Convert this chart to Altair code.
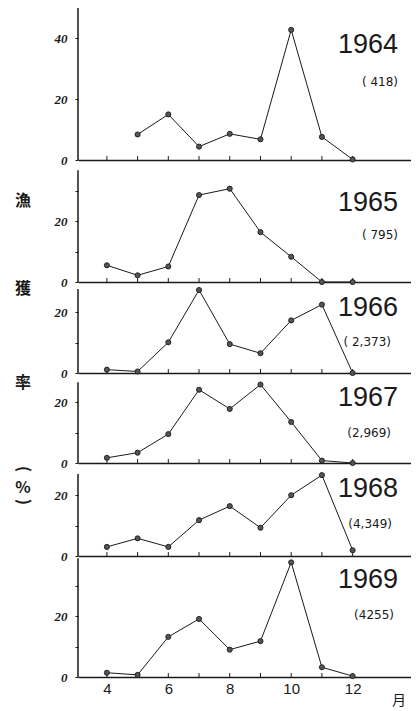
import altair as alt
import pandas as pd

months = [4, 5, 6, 7, 8, 9, 10, 11, 12]
years = ["1964", "1965", "1966", "1967", "1968", "1969"]
counts = ["( 418)", "( 795)", "( 2,373)", "(2,969)", "(4,349)", "(4255)"]
v1964 = [None, 8.4, 15.0, 4.4, 8.6, 6.8, 42.8, 7.6, 0.2]
v1965 = [5.5, 2.2, 5.1, 28.6, 30.7, 16.4, 8.3, 0.0, 0.0]
v1966 = [1.1, 0.5, 10.1, 27.3, 9.5, 6.5, 17.3, 22.5, 0.0]
v1967 = [1.7, 3.4, 9.5, 24.1, 17.8, 25.8, 13.5, 0.8, 0.0]
v1968 = [3.0, 5.8, 3.0, 11.8, 16.4, 9.3, 20.0, 26.6, 1.9]
v1969 = [1.4, 0.7, 13.2, 19.1, 9.0, 11.8, 37.7, 3.2, 0.3]
series = [v1964, v1965, v1966, v1967, v1968, v1969]

xticks = [4, 6, 8, 10, 12]
y_ticks = [[0, 10, 20, 30, 40], [0, 10, 20, 30], [0, 10, 20], [0, 10, 20], [0, 10, 20], [0, 10, 20, 30]]
axis_top = [50, 36.8, 27.6, 26.6, 27.0, 39.1]
ylab_chars = ["漁", "獲", "率", "(", "%", ")"]
ylab_panel = [1, 2, 3, 4, 4, 4]
ylab_y = [41, 7, 10, 6, 25, 39]
ylab_angle = [0, 0, 0, 90, 0, 90]

# layout (pixels)
heights = [152, 122, 91, 90, 93, 121]
PX = 3.04
W = 333
year_y = [37, 43, 26, 25, 26, 24]
count_y = [74, 75, 60, 60, 61, 59]
count_x = [320, 320, 313, 313, 314, 316]

INK = "#1a1a1a"


def panel(i):
    H = heights[i]
    df = pd.DataFrame({"month": months, "value": series[i]}).dropna()
    last = i == len(series) - 1
    if last:
        xaxis = alt.Axis(values=xticks, ticks=False, domain=True, grid=False, title=None,
                         labelFont="Liberation Sans", labelFontSize=15, labelColor=INK,
                         labelPadding=4, domainColor=INK, domainWidth=1.5)
    else:
        xaxis = alt.Axis(labels=False, ticks=False, domain=True, grid=False, title=None,
                         domainColor=INK, domainWidth=1.5, labelPadding=0)
    x = alt.X("month:Q", scale=alt.Scale(domain=[3.06, 13.9], nice=False, zero=False), axis=xaxis)
    y = alt.Y("value:Q", scale=alt.Scale(domain=[0, H / PX], nice=False),
              axis=alt.Axis(values=y_ticks[i], labelExpr="datum.value % 20 == 0 ? datum.label : ''",
                            domain=False, grid=False, title=None, tickSize=3, tickColor=INK,
                            labelFont="Liberation Serif", labelFontStyle="italic",
                            labelFontWeight="bold", labelFontSize=13, labelColor=INK,
                            labelPadding=8))
    base = alt.Chart(df)
    line = base.mark_line(color=INK, strokeWidth=1).encode(x=x, y=y)
    pts = base.mark_point(filled=True, fill="#555", stroke=INK, strokeWidth=0.9, size=26, opacity=1).encode(
        x="month:Q", y="value:Q")
    tdf = pd.DataFrame({"month": months})
    ticks = alt.Chart(tdf).mark_rule(color=INK, strokeWidth=1).encode(
        x="month:Q", y=alt.datum(0), y2=alt.datum(1.3))
    yrule = alt.Chart(tdf.head(1)).mark_rule(color=INK, strokeWidth=1.5).encode(
        x=alt.value(0), y=alt.datum(0), y2=alt.datum(axis_top[i]))
    ylabel = alt.Chart(pd.DataFrame({"t": [years[i]]})).mark_text(
        align="right", baseline="middle", font="Liberation Sans",
        fontSize=27, color=INK).encode(text="t:N", x=alt.value(320), y=alt.value(year_y[i]))
    clabel = alt.Chart(pd.DataFrame({"t": [counts[i]]})).mark_text(
        align="right", baseline="middle", font="DejaVu Sans", fontSize=12, color=INK).encode(
        text="t:N", x=alt.value(count_x[i]), y=alt.value(count_y[i]))
    layers = [ticks, yrule, line, pts, ylabel, clabel]
    for ch, p, yy, ang in zip(ylab_chars, ylab_panel, ylab_y, ylab_angle):
        if p == i:
            layers.append(alt.Chart(pd.DataFrame({"t": [ch]})).mark_text(
                align="center", baseline="middle", font="Noto Sans CJK JP", fontWeight="bold",
                fontSize=16, angle=ang, color=INK).encode(text="t:N", x=alt.value(-55), y=alt.value(yy)))
    if last:
        layers.append(alt.Chart(pd.DataFrame({"t": ["月"]})).mark_text(
            align="center", baseline="middle", font="Noto Sans CJK JP", fontSize=14, color=INK).encode(
            text="t:N", x=alt.value(321), y=alt.value(145)))
    return alt.layer(*layers).properties(width=W, height=H)


chart = alt.vconcat(*[panel(i) for i in range(6)], spacing=0, bounds="flush").properties(
    padding={"left": 14, "top": 7, "right": 0, "bottom": 0}, background="white"
).configure_view(stroke=None)

chart.save("out.html", embed_options={"renderer": "svg", "actions": False})
